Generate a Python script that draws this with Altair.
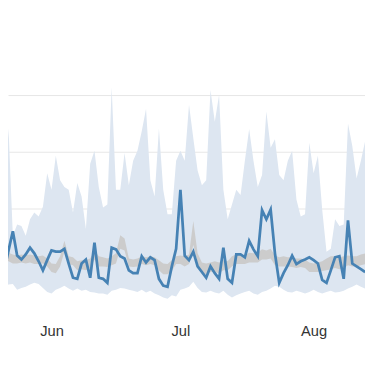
import altair as alt
import pandas as pd

start_day = "2023-05-20"
n_days = 86

line_vals = [0.57, 0.91, 1.26, 1.60, 1.17, 1.10, 1.19, 1.31, 1.21, 1.07,
             0.91, 1.09, 1.26, 1.24, 1.24, 1.29, 1.03, 0.78, 0.76, 1.03,
             1.10, 0.78, 1.40, 0.78, 0.76, 0.69, 1.31, 1.28, 1.16, 1.12,
             0.91, 0.86, 0.86, 1.16, 1.05, 1.14, 1.09, 0.76, 0.64, 0.62,
             0.98, 1.29, 2.33, 1.17, 1.09, 1.24, 0.98, 0.88, 0.78, 0.98,
             0.86, 0.76, 1.31, 0.76, 0.69, 1.19, 1.19, 1.14, 1.43, 1.28,
             1.16, 1.97, 1.81, 1.98, 1.21, 0.69, 0.86, 1.00, 1.17, 1.02,
             1.07, 1.10, 1.14, 1.09, 1.03, 0.74, 0.69, 0.91, 1.14, 1.16,
             0.76, 1.79, 1.03, 0.98, 0.93, 0.88]

band_hi = [2.03, 2.03, 3.41, 1.52, 1.72, 1.69, 1.52, 1.81, 1.93, 1.86,
           2.03, 2.62, 2.33, 2.93, 2.50, 2.38, 2.33, 1.93, 2.45, 2.21,
           1.64, 2.79, 3.02, 2.38, 2.02, 2.07, 4.14, 2.33, 2.33, 2.98,
           2.41, 2.84, 3.02, 3.36, 3.76, 2.50, 2.21, 3.41, 2.33, 1.90,
           1.90, 2.84, 3.02, 2.84, 3.83, 3.24, 2.67, 2.41, 2.50, 4.09,
           3.53, 4.00, 2.33, 1.81, 2.07, 2.33, 2.24, 2.84, 3.40, 2.84,
           2.38, 2.59, 3.71, 3.07, 3.22, 2.59, 2.50, 2.84, 3.02, 2.16,
           1.86, 1.90, 3.16, 2.62, 2.93, 1.98, 1.24, 1.29, 1.81, 1.69,
           1.72, 3.50, 3.10, 2.53, 2.84, 3.19]

band_lo = [0.50, 0.64, 0.66, 0.67, 0.57, 0.60, 0.62, 0.66, 0.69, 0.67,
           0.60, 0.53, 0.50, 0.57, 0.60, 0.64, 0.59, 0.55, 0.59, 0.55,
           0.57, 0.53, 0.52, 0.50, 0.50, 0.48, 0.55, 0.57, 0.60, 0.59,
           0.57, 0.55, 0.53, 0.57, 0.52, 0.55, 0.50, 0.47, 0.43, 0.41,
           0.47, 0.45, 0.57, 0.59, 0.62, 0.71, 0.60, 0.53, 0.52, 0.55,
           0.52, 0.50, 0.55, 0.48, 0.43, 0.47, 0.50, 0.53, 0.55, 0.50,
           0.48, 0.53, 0.55, 0.59, 0.64, 0.62, 0.57, 0.53, 0.52, 0.55,
           0.53, 0.50, 0.53, 0.57, 0.53, 0.50, 0.53, 0.55, 0.52, 0.53,
           0.55, 0.59, 0.62, 0.66, 0.62, 0.59]

gray_hi = [1.28, 1.26, 1.22, 1.19, 1.17, 1.19, 1.17, 1.19, 1.17, 1.16,
           1.17, 1.12, 1.03, 1.02, 1.16, 1.43, 1.16, 1.14, 1.07, 1.09,
           1.09, 1.12, 1.26, 1.16, 1.14, 1.12, 1.16, 1.21, 1.53, 1.47,
           1.12, 1.10, 1.12, 1.16, 1.14, 1.16, 1.14, 1.09, 1.03, 1.02,
           1.09, 1.16, 1.17, 1.16, 1.19, 1.78, 1.21, 1.05, 1.03, 1.05,
           1.07, 1.05, 1.09, 1.07, 1.16, 1.19, 1.19, 1.17, 1.22, 1.21,
           1.22, 1.28, 1.26, 1.29, 1.17, 1.14, 1.16, 1.14, 1.14, 1.12,
           1.12, 1.10, 1.05, 1.03, 1.05, 1.07, 1.12, 1.16, 1.16, 1.14,
           1.16, 1.17, 1.16, 1.16, 1.19, 1.21]

gray_lo = [1.10, 1.09, 1.07, 1.03, 1.03, 1.05, 1.03, 1.05, 1.02, 1.02,
           1.03, 0.98, 0.88, 0.86, 0.98, 1.24, 1.02, 1.00, 0.91, 0.93,
           0.91, 0.95, 1.10, 0.98, 0.98, 0.97, 1.00, 1.03, 1.29, 1.26,
           0.98, 0.97, 0.98, 1.02, 1.00, 1.02, 1.00, 0.91, 0.84, 0.84,
           0.90, 1.02, 1.02, 0.98, 1.02, 1.36, 1.03, 0.84, 0.84, 0.88,
           0.88, 0.86, 0.91, 0.91, 0.98, 1.02, 1.02, 1.02, 1.05, 1.05,
           1.05, 1.10, 1.10, 1.12, 1.00, 0.98, 0.98, 0.98, 0.97, 0.95,
           0.97, 0.95, 0.88, 0.88, 0.88, 0.90, 0.91, 0.93, 0.95, 0.93,
           0.95, 1.00, 0.98, 0.98, 1.00, 1.02]

dates = pd.date_range(start_day, periods=n_days, freq="D").strftime("%Y-%m-%d").tolist()

df = pd.DataFrame({
    "date": dates,
    "value": line_vals,
    "hi": band_hi,
    "lo": band_lo,
    "ghi": gray_hi,
    "glo": gray_lo,
})

x_dom = [alt.DateTime(year=2023, month=5, date=21, hours=21, utc=True),
         alt.DateTime(year=2023, month=8, date=12, hours=23, utc=True)]

x = alt.X("date:T",
          scale=alt.Scale(type="utc", domain=x_dom, nice=False),
          axis=alt.Axis(labelExpr="utcFormat(datum.value, '%b')", title=None, grid=False,
                        domain=False, ticks=False, tickSize=0, labelPadding=2,
                        labelFontSize=15, labelFont="Liberation Sans",
                        labelColor="#333333", labelFlush=False,
                        tickCount={"interval": "month", "step": 1}))

y_scale = alt.Scale(domain=[0, 5.466], nice=False, zero=False)
y_axis = alt.Axis(values=[1, 2, 3, 4], labels=False, ticks=False, domain=False,
                  title=None, grid=True, gridColor="#e6e6e6", gridWidth=1)

base = alt.Chart(df)

band = base.mark_area(color="#dde6f1", clip=True).encode(
    x=x, y=alt.Y("lo:Q", scale=y_scale, axis=y_axis), y2="hi:Q")

gray = base.mark_area(color="#cccccc", clip=True).encode(
    x=x, y=alt.Y("glo:Q", scale=y_scale, axis=y_axis), y2="ghi:Q")

line = base.mark_line(color="#4682b4", strokeWidth=2.8, clip=True).encode(
    x=x, y=alt.Y("value:Q", scale=y_scale, axis=y_axis))

chart = alt.layer(band, gray, line).properties(
    width=365, height=317,
    autosize=alt.AutoSizeParams(type="none"),
    padding={"left": 0, "top": 0, "right": 0, "bottom": 40},
).configure_view(strokeWidth=0)

chart.save("out.html", embed_options={"renderer": "svg", "actions": False})
